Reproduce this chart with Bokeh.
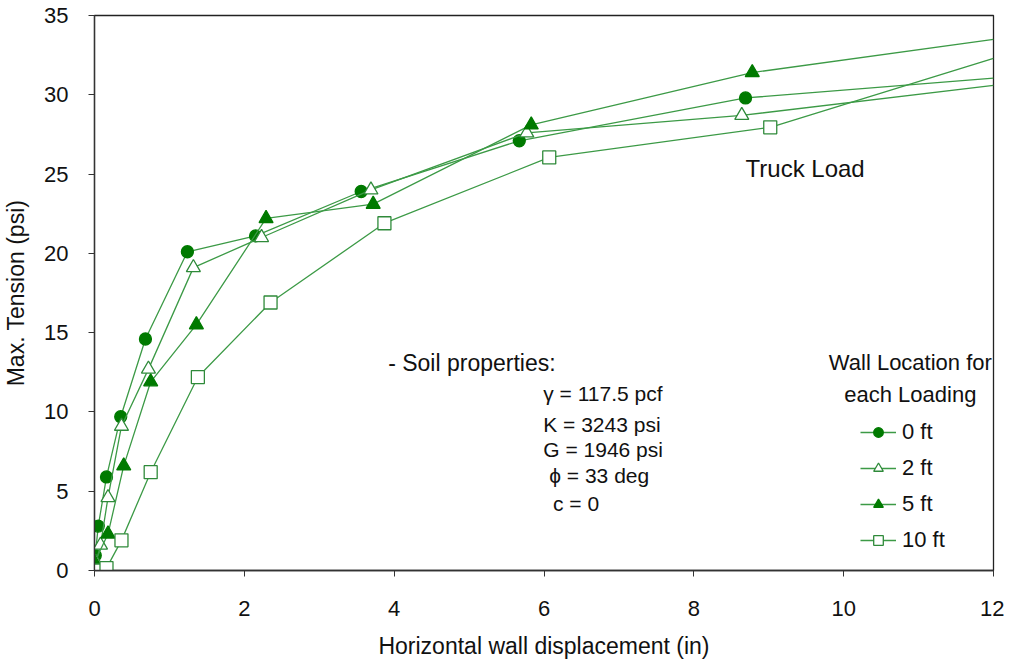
from bokeh.plotting import figure
from bokeh.models import Label, Legend, LegendItem, FixedTicker
from bokeh.embed import file_html
from bokeh.resources import INLINE

# ---- data (last point of each series is where the line leaves the frame at x = 12)
x_0ft = [0.01, 0.05, 0.16, 0.35, 0.68, 1.24, 2.15, 3.56, 5.67, 8.69, 12.0]
y_0ft = [0.95, 2.8, 5.9, 9.7, 14.6, 20.1, 21.1, 23.9, 27.1, 29.8, 31.05]

x_2ft = [0.02, 0.08, 0.18, 0.36, 0.72, 1.32, 2.23, 3.69, 5.77, 8.64, 12.0]
y_2ft = [0.5, 1.6, 4.6, 9.1, 12.7, 19.1, 21.0, 24.0, 27.6, 28.7, 30.6]

x_5ft = [0.0, 0.18, 0.39, 0.75, 1.36, 2.29, 3.72, 5.83, 8.78, 12.0]
y_5ft = [0.5, 2.3, 6.6, 11.9, 15.5, 22.2, 23.1, 28.1, 31.4, 33.5]

x_10ft = [0.0, 0.16, 0.36, 0.75, 1.38, 2.35, 3.87, 6.07, 9.02, 12.0]
y_10ft = [0.0, 0.15, 1.9, 6.2, 12.2, 16.9, 21.9, 26.05, 27.95, 32.3]

legend_labels = ["0 ft", "2 ft", "5 ft", "10 ft"]
x_ticks = [0, 2, 4, 6, 8, 10, 12]
y_ticks = [0, 5, 10, 15, 20, 25, 30, 35]

soil_lines = ["\u03b3 = 117.5 pcf", "K = 3243 psi", "G = 1946 psi", "\u03d5 = 33 deg", "c = 0"]

FONT = "Liberation Sans"
LINE = "#3c9a46"
DARK = "#007a00"

p = figure(width=1004, height=664, x_range=(0, 12), y_range=(0, 35),
           output_backend="svg", toolbar_location=None,
           min_border_left=93, min_border_right=11, min_border_top=15, min_border_bottom=94)
p.xgrid.visible = False
p.ygrid.visible = False
p.outline_line_color = "#222222"
p.outline_line_width = 1.3
p.background_fill_color = "white"

for ax in (p.xaxis[0], p.yaxis[0]):
    ax.axis_line_color = "#333333"
    ax.axis_line_width = 1.3
    ax.major_tick_line_color = "#333333"
    ax.major_tick_out = 6
    ax.major_tick_in = 0
    ax.minor_tick_line_color = None
    ax.major_label_text_font = FONT
    ax.major_label_text_font_size = "22px"
    ax.major_label_text_color = "#111111"
    ax.axis_label_text_font = FONT
    ax.axis_label_text_font_size = "23px"
    ax.axis_label_text_font_style = "normal"
    ax.axis_label_text_color = "#111111"

p.xaxis.ticker = FixedTicker(ticks=x_ticks)
p.yaxis.ticker = FixedTicker(ticks=y_ticks)
p.xaxis.axis_label = "Horizontal wall displacement (in)"
p.yaxis.axis_label = "Max. Tension (psi)"
p.xaxis.major_label_standoff = 24
p.xaxis.axis_label_standoff = 14
p.yaxis.major_label_standoff = 20
p.yaxis.axis_label_standoff = 12

series = [
    (x_0ft, y_0ft, "circle", DARK, 12),
    (x_2ft, y_2ft, "triangle", "white", 14),
    (x_5ft, y_5ft, "triangle", DARK, 14),
    (x_10ft, y_10ft, "square", "white", 13),
]

items = []
for (xs, ys, marker, fill, size), lab in zip(series, legend_labels):
    ln = p.line(xs, ys, line_color=LINE, line_width=1.3)
    sc = p.scatter(xs[:-1], ys[:-1], marker=marker, size=size, fill_color=fill,
                   line_color=DARK if fill != "white" else "#2f8a3a", line_width=1.3)
    items.append(LegendItem(label=lab, renderers=[ln, sc]))

legend = Legend(items=items, location=(766, 17), orientation="vertical",
                padding=0, margin=0, border_line_alpha=0, background_fill_alpha=0,
                glyph_width=36, glyph_height=24, label_height=24, spacing=10,
                label_standoff=6, label_text_font=FONT, label_text_font_size="22px",
                label_text_color="#111111")
p.add_layout(legend, "center")

def add_text(x, y, t, align="left", size="21px"):
    p.add_layout(Label(x=x, y=y, text=t, text_font=FONT, text_font_size=size,
                       text_align=align, text_baseline="middle", text_color="#111111"))

add_text(8.69, 25.35, "Truck Load", size="24px")
add_text(10.89, 13.1, "Wall Location for", align="center", size="22px")
add_text(10.89, 11.1, "each Loading", align="center", size="22px")
add_text(3.92, 13.1, "- Soil properties:", size="23px")
soil_x = [5.99, 5.99, 5.99, 6.07, 6.12]
soil_y = [11.15, 9.2, 7.6, 6.0, 4.25]
for t, xx, yy in zip(soil_lines, soil_x, soil_y):
    add_text(xx, yy, t, size="21px")

open("out.html", "w").write(file_html(p, INLINE))
